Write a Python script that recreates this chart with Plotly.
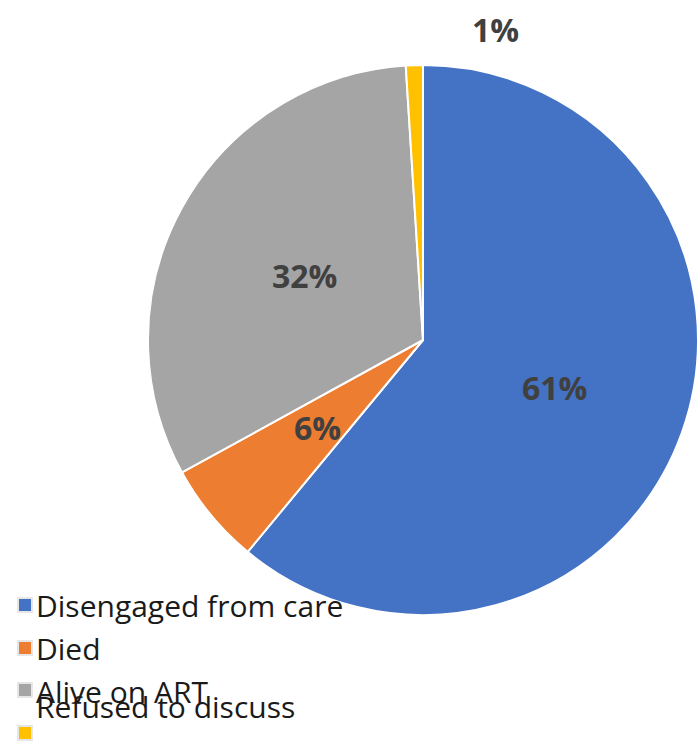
import math
import plotly.graph_objects as go

# Outcome categories and their shares (%)
categories = ["Disengaged from care", "Died", "Alive on ART", "Refused to discuss"]
shares = [61, 6, 32, 1]
colors = ["#4472C4", "#ED7D31", "#A5A5A5", "#FFC000"]

W, H = 698, 743

# Pie geometry in pixels
CX, CY, R = 423, 340, 275
dom_x = [(CX - R) / W, min(1.0, (CX + R) / W)]
dom_y = [1 - (CY + R) / H, 1 - (CY - R) / H]

fig = go.Figure(
    go.Pie(
        labels=categories,
        values=shares,
        marker=dict(colors=colors, line=dict(color="white", width=2)),
        sort=False,
        direction="clockwise",
        rotation=0,
        textinfo="none",
        hoverinfo="label+percent",
        showlegend=False,
        domain=dict(x=dom_x, y=dom_y),
    )
)

# Data labels: radial distance (fraction of R) and angle shift (deg) per slice
label_radius = [0.51, 0.50, 0.49, 1.16]
label_shift = [0, 0, 0, 15]
label_font = dict(family="Open Sans", size=32, color="#404040")

total = sum(shares)
cum = 0.0
annotations = []
for i, v in enumerate(shares):
    mid = (cum + v / 2) / total * 360 + label_shift[i]
    cum += v
    theta = math.radians(mid)
    px = CX + label_radius[i] * R * math.sin(theta)
    py = CY - label_radius[i] * R * math.cos(theta)
    annotations.append(
        dict(
            x=px / W, y=1 - py / H, xref="paper", yref="paper",
            text="<b>%d%%</b>" % round(v / total * 100),
            showarrow=False, font=label_font,
            xanchor="center", yanchor="middle",
        )
    )

# Legend drawn as swatches and text rows
leg_x, swatch = 17, 16
swatch_y = [597, 640, 682, 725]
text_y = [605, 648, 691, 706]
legend_font = dict(family="Open Sans", size=30, color="#1a1a1a")
shapes = []
for i, name in enumerate(categories):
    y0 = swatch_y[i]
    shapes.append(
        dict(type="rect", xref="paper", yref="paper",
             x0=leg_x / W, x1=(leg_x + swatch) / W,
             y0=1 - (y0 + swatch) / H, y1=1 - y0 / H,
             fillcolor="#e6e6e6", line=dict(width=0))
    )
    shapes.append(
        dict(type="rect", xref="paper", yref="paper",
             x0=(leg_x + 2) / W, x1=(leg_x + swatch - 2) / W,
             y0=1 - (y0 + swatch - 2) / H, y1=1 - (y0 + 2) / H,
             fillcolor=colors[i], line=dict(width=0))
    )
    annotations.append(
        dict(x=34 / W, y=1 - text_y[i] / H, xref="paper", yref="paper",
             text=name, showarrow=False, font=legend_font,
             xanchor="left", yanchor="middle")
    )

fig.update_layout(
    width=W, height=H,
    margin=dict(l=0, r=0, t=0, b=0),
    paper_bgcolor="white",
    plot_bgcolor="white",
    annotations=annotations,
    shapes=shapes,
)

fig.write_html("out.html")
